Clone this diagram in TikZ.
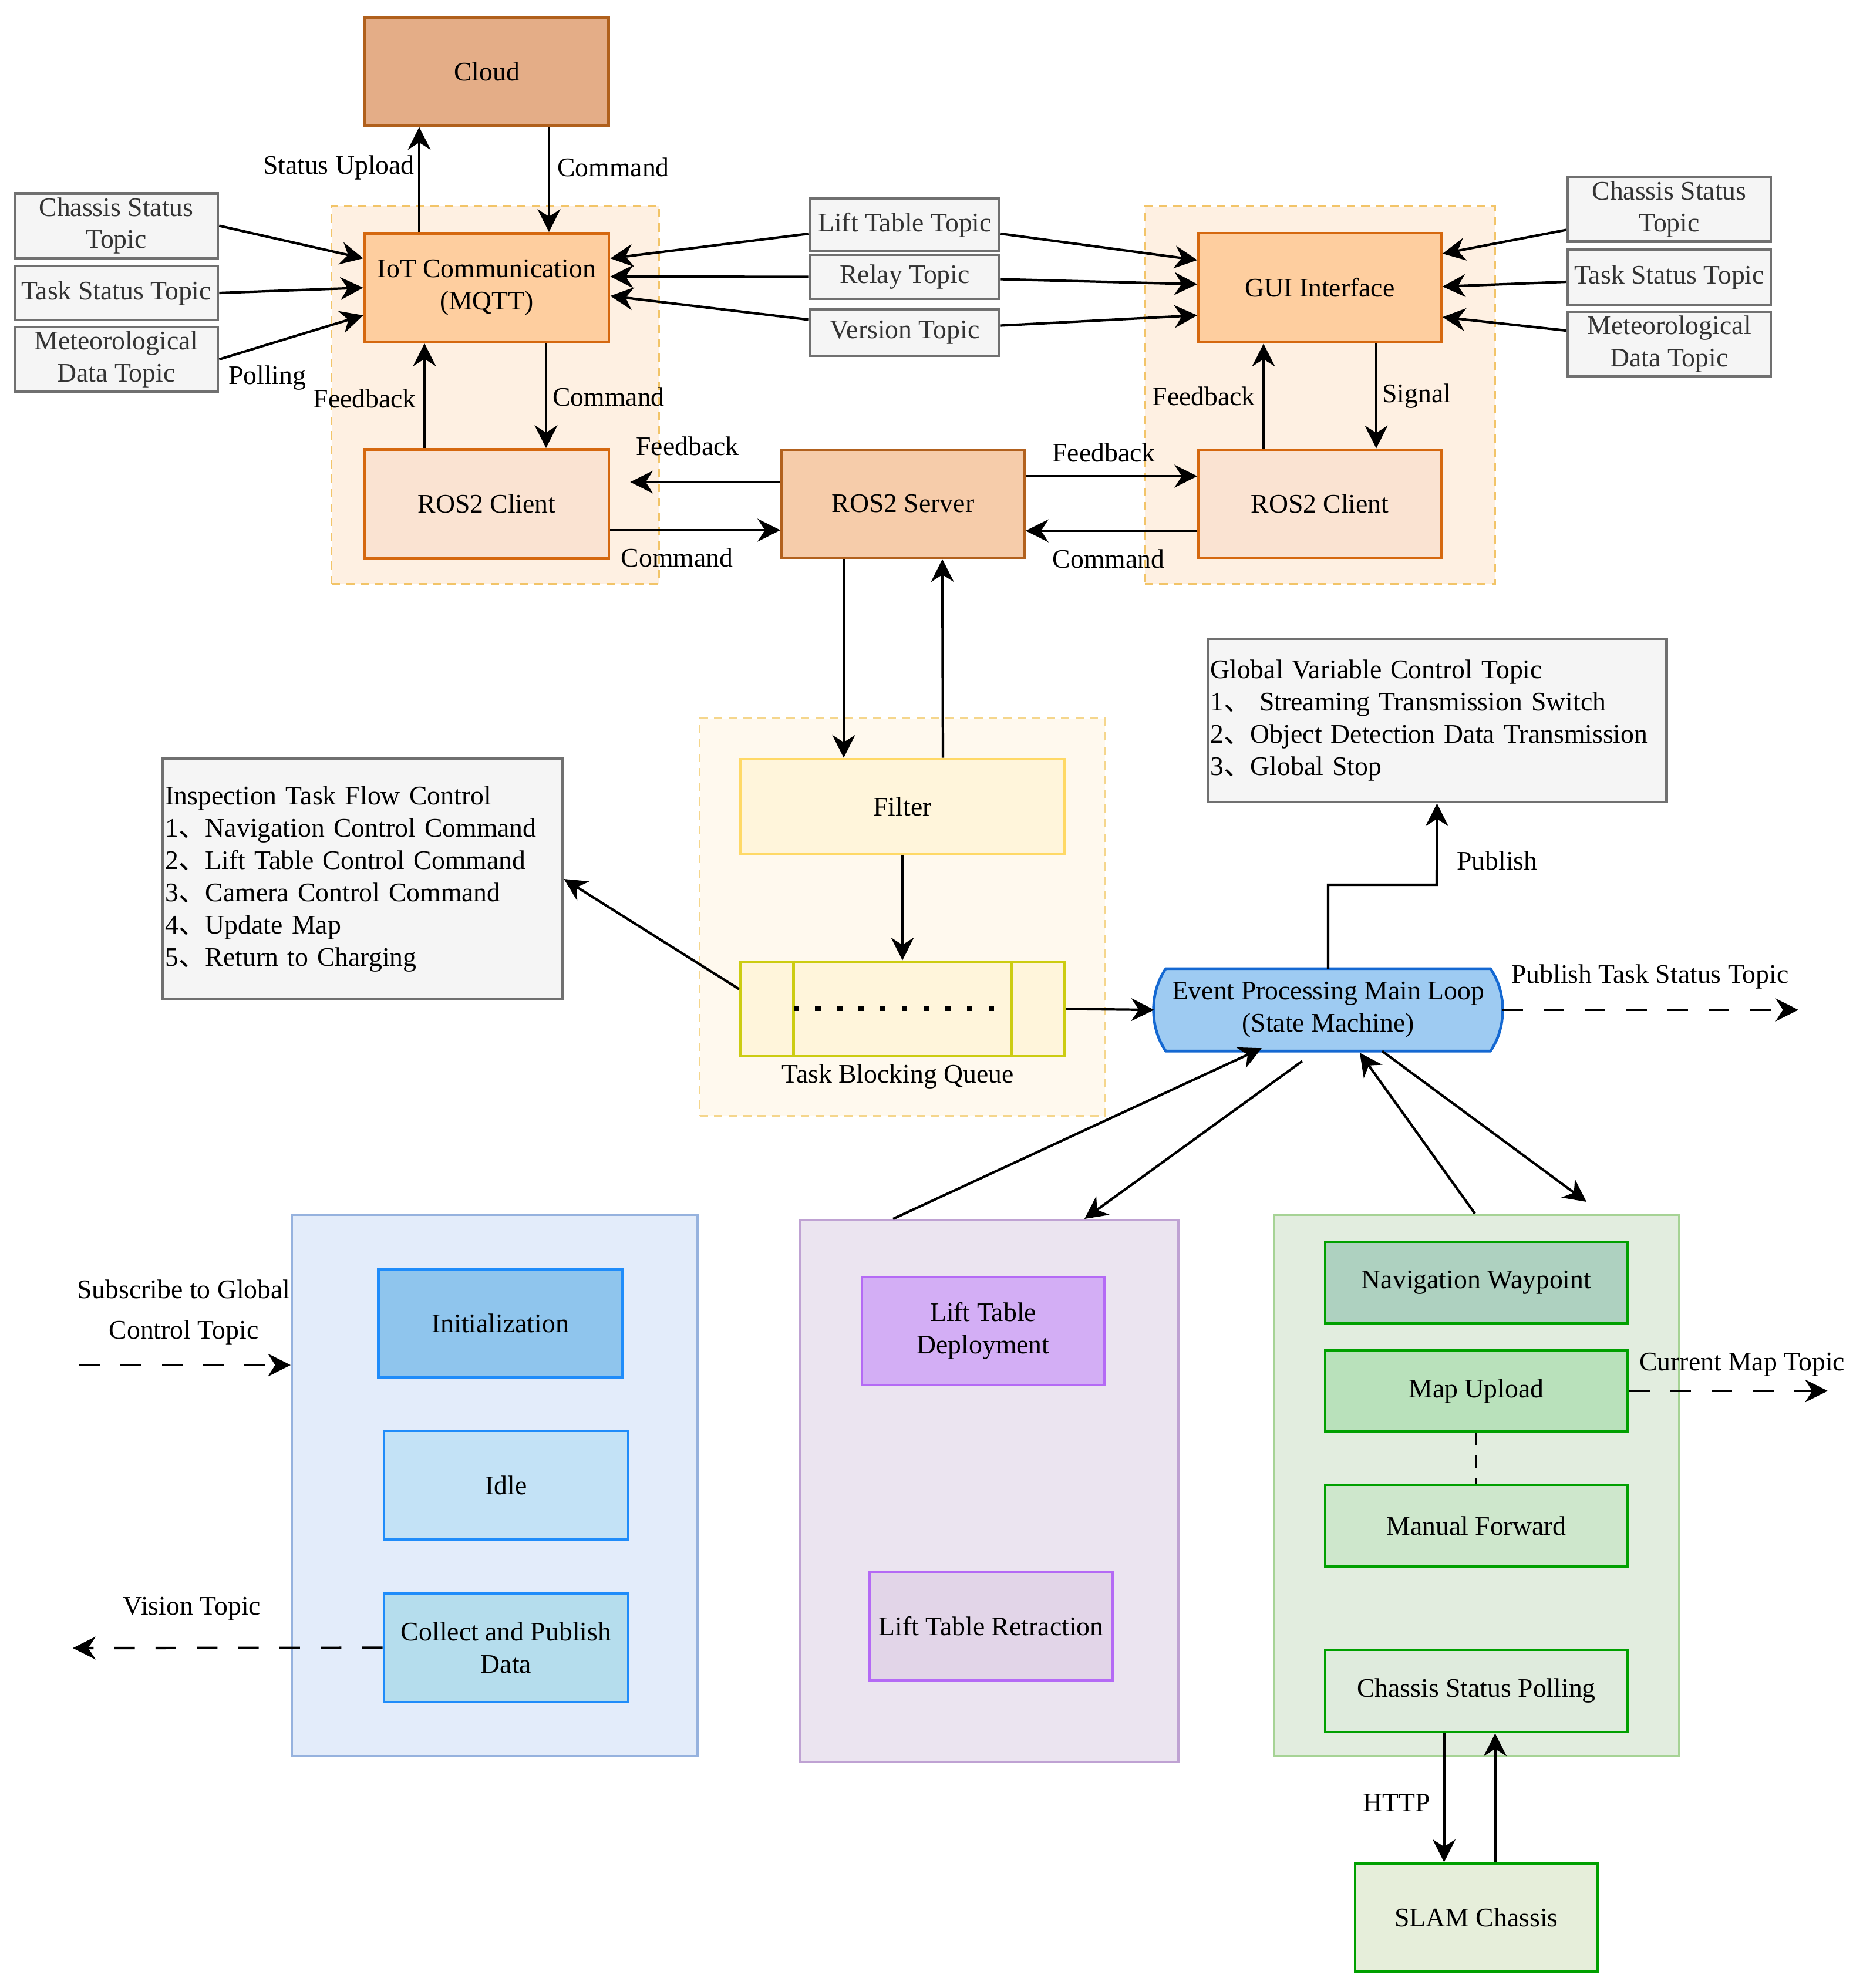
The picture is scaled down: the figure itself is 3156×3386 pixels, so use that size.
\documentclass[tikz,border=0pt]{standalone}
\usepackage{fontspec}
\setmainfont{Liberation Serif}
\newfontfamily\cjk{Noto Sans CJK SC}
\usetikzlibrary{arrows.meta,calc}
\definecolor{cloudF}{HTML}{E4AD87}
\definecolor{cloudD}{HTML}{B0601C}
\definecolor{iotF}{HTML}{FECE9F}
\definecolor{orD}{HTML}{D5680F}
\definecolor{clF}{HTML}{FAE3D2}
\definecolor{srvF}{HTML}{F6CCAA}
\definecolor{srvD}{HTML}{B2611E}
\definecolor{orRegF}{HTML}{FEF0E2}
\definecolor{orRegD}{HTML}{F2C468}
\definecolor{topF}{HTML}{F5F5F5}
\definecolor{topD}{HTML}{707070}
\definecolor{filF}{HTML}{FFF5DB}
\definecolor{filD}{HTML}{FFD966}
\definecolor{queD}{HTML}{CCCC12}
\definecolor{yRegF}{HTML}{FFF9EE}
\definecolor{yRegD}{HTML}{F5D68C}
\definecolor{evF}{HTML}{9ECBF2}
\definecolor{evD}{HTML}{1468D2}
\definecolor{bCF}{HTML}{E3ECFA}
\definecolor{bCD}{HTML}{96B2DE}
\definecolor{bD}{HTML}{1F8CFA}
\definecolor{initF}{HTML}{8FC5ED}
\definecolor{idleF}{HTML}{C3E2F6}
\definecolor{collF}{HTML}{B5DDED}
\definecolor{pCF}{HTML}{EBE4F0}
\definecolor{pCD}{HTML}{BFA2D3}
\definecolor{pD}{HTML}{B46AF5}
\definecolor{depF}{HTML}{D3AEF5}
\definecolor{retF}{HTML}{E2D5E8}
\definecolor{gCF}{HTML}{E2EDDF}
\definecolor{gCD}{HTML}{A6D395}
\definecolor{gD}{HTML}{00A000}
\definecolor{navF}{HTML}{AED1C0}
\definecolor{mapF}{HTML}{B9E1BB}
\definecolor{manF}{HTML}{CEE7CC}
\definecolor{polF}{HTML}{DFEBDD}
\definecolor{slamF}{HTML}{E6EEDA}
\begin{document}
\begin{tikzpicture}[x=0.01cm,y=-0.01cm,
  font=\fontsize{13}{15.6}\selectfont,
  box/.style={draw, line width=1.3pt, align=center, inner sep=2pt},
  topic/.style={box, fill=topF, draw=topD, text=black!80, minimum width=3.46cm},
  midtopic/.style={topic, minimum width=3.22cm},
  region/.style={draw=orRegD, fill=orRegF, dash pattern=on 4pt off 3pt, line width=0.9pt},
  cont/.style={draw, line width=1pt},
  arr/.style={line width=1.2pt, -{Stealth[length=11pt,width=11pt,inset=3.5pt]}},
  darr/.style={arr, dash pattern=on 10pt off 10pt},
  lbl/.style={inner sep=1pt}]
\fill[white] (0,0) rectangle (3156,3386);
\useasboundingbox (0,0) rectangle (3156,3386);

% ---------- regions / containers ----------
\node[region, minimum width=5.57cm, minimum height=6.43cm] (regL) at (843.5,672.5) {};
\node[region, minimum width=5.96cm, minimum height=6.42cm] (regR) at (2248,673) {};
\node[region, draw=yRegD, fill=yRegF, minimum width=6.90cm, minimum height=6.76cm] (regY) at (1537,1562) {};
\node[cont, draw=bCD, fill=bCF, minimum width=6.91cm, minimum height=9.22cm] (blue) at (842.5,2530) {};
\node[cont, draw=pCD, fill=pCF, minimum width=6.45cm, minimum height=9.22cm] (purp) at (1684.5,2539) {};
\node[cont, draw=gCD, fill=gCF, minimum width=6.90cm, minimum height=9.21cm] (green) at (2515,2529.5) {};

% ---------- top part ----------
\node[box, fill=cloudF, draw=cloudD, minimum width=4.15cm, minimum height=1.84cm] (cloud) at (829,122) {Cloud};
\node[box, fill=iotF, draw=orD, minimum width=4.16cm, minimum height=1.85cm] (iot) at (829,490) {IoT Communication\\(MQTT)};
\node[box, fill=clF, draw=orD, minimum width=4.16cm, minimum height=1.85cm] (rcl) at (829,858) {ROS2 Client};
\node[box, fill=iotF, draw=orD, minimum width=4.13cm, minimum height=1.86cm] (gui) at (2248,490) {GUI Interface};
\node[box, fill=clF, draw=orD, minimum width=4.13cm, minimum height=1.84cm] (rcr) at (2248,858) {ROS2 Client};
\node[box, fill=srvF, draw=srvD, minimum width=4.13cm, minimum height=1.84cm] (srv) at (1538,858) {ROS2 Server};

\node[topic, minimum height=1.03cm] (tcl1) at (198,384.5) {Chassis Status\\Topic};
\node[topic, minimum height=0.92cm] (tcl2) at (198,499) {Task Status Topic};
\node[topic, minimum height=1.06cm] (tcl3) at (198,612) {Meteorological\\Data Topic};

\node[midtopic, minimum height=0.90cm] (lt) at (1541,383) {Lift Table Topic};
\node[midtopic, minimum height=0.75cm] (rl) at (1541,471.5) {Relay Topic};
\node[midtopic, minimum height=0.79cm] (vt) at (1541,566.5) {Version Topic};

\node[topic, minimum height=1.03cm] (tcr1) at (2843,356.5) {Chassis Status\\Topic};
\node[topic, minimum height=0.94cm] (tcr2) at (2843,472) {Task Status Topic};
\node[topic, minimum height=1.04cm] (tcr3) at (2843,586) {Meteorological\\Data Topic};

% ---------- middle part ----------
\node[box, fill=filF, draw=filD, minimum width=5.52cm, minimum height=1.62cm] (filter) at (1537,1374) {Filter};
\node[box, fill=filF, draw=queD, minimum width=5.52cm, minimum height=1.61cm] (queue) at (1537,1718.5) {};
\draw[draw=queD, line width=1.3pt] ($(queue.north west)+(93,0)$) -- ($(queue.south west)+(93,0)$);
\draw[draw=queD, line width=1.3pt] ($(queue.north east)+(-92,0)$) -- ($(queue.south east)+(-92,0)$);
\draw[line width=2.6pt, dash pattern=on 2.6pt off 7.9pt] ($(queue.west)+(93,-1)$) -- ($(queue.east)+(-118,-1)$);
\node[lbl] (lqueue) at (1529,1834) {Task Blocking Queue};

\node[minimum width=5.91cm, minimum height=1.39cm, inner sep=0pt, align=center] (evt) at (2262,1720) {};
\filldraw[fill=evF, draw=evD, line width=1.3pt]
  ($(evt.north west)+(20,0)$) -- ($(evt.north east)+(-20,0)$)
  .. controls ($(evt.north east)+(8,40)$) and ($(evt.south east)+(8,-40)$) .. ($(evt.south east)+(-20,0)$)
  -- ($(evt.south west)+(20,0)$)
  .. controls ($(evt.south west)+(-8,-40)$) and ($(evt.north west)+(-8,40)$) .. ($(evt.north west)+(20,0)$) -- cycle;
\node[align=center] (evtxt) at (evt.center) {Event Processing Main Loop\\(State Machine)};

\node[box, fill=topF, draw=topD, minimum width=7.81cm, minimum height=2.78cm, text width=7.72cm, inner xsep=0.04cm, align=left] (glob) at (2447.5,1227)
  {Global Variable Control Topic\\1{\cjk 、} Streaming Transmission Switch\\2{\cjk 、}Object Detection Data Transmission\\3{\cjk 、}Global Stop};
\node[box, fill=topF, draw=topD, minimum width=6.81cm, minimum height=4.10cm, text width=6.72cm, inner xsep=0.04cm, align=left] (insp) at (617.5,1497)
  {Inspection Task Flow Control\\1{\cjk 、}Navigation Control Command\\2{\cjk 、}Lift Table Control Command\\3{\cjk 、}Camera Control Command\\4{\cjk 、}Update Map\\5{\cjk 、}Return to Charging};

% ---------- bottom part ----------
\node[box, fill=initF, draw=bD, minimum width=4.15cm, minimum height=1.85cm] (init) at (852,2254) {Initialization};
\node[box, fill=idleF, draw=bD, minimum width=4.16cm, minimum height=1.85cm] (idle) at (862,2529.5) {Idle};
\node[box, fill=collF, draw=bD, minimum width=4.16cm, minimum height=1.85cm] (coll) at (862,2806.5) {Collect and Publish\\Data};

\node[box, fill=depF, draw=pD, minimum width=4.13cm, minimum height=1.84cm] (dep) at (1674.5,2267) {Lift Table\\Deployment};
\node[box, fill=retF, draw=pD, minimum width=4.14cm, minimum height=1.85cm] (ret) at (1688,2769.5) {Lift Table Retraction};

\node[box, fill=navF, draw=gD, minimum width=5.15cm, minimum height=1.39cm] (nav) at (2514.5,2184.5) {Navigation Waypoint};
\node[box, fill=mapF, draw=gD, minimum width=5.15cm, minimum height=1.38cm] (map) at (2514.5,2369) {Map Upload};
\node[box, fill=manF, draw=gD, minimum width=5.15cm, minimum height=1.39cm] (man) at (2514.5,2598.5) {Manual Forward};
\node[box, fill=polF, draw=gD, minimum width=5.15cm, minimum height=1.40cm] (poll) at (2514.5,2880) {Chassis Status Polling};
\node[box, fill=slamF, draw=gD, minimum width=4.13cm, minimum height=1.84cm] (slam) at (2514.5,3266) {SLAM Chassis};

% ---------- free coordinates ----------
\coordinate (pubturn) at (2447,1507);
\coordinate (pubend) at (3063,1720);
\coordinate (mapend) at (3113,2369);
\coordinate (substart) at (135,2325);
\coordinate (visend) at (124,2807);

% ---------- connectors: top ----------
\draw[arr] ($(iot.north)+(-115,0)$) -- ($(cloud.south)+(-115,0)$);
\draw[arr] ($(cloud.south)+(106,0)$) -- ($(iot.north)+(106,0)$);
\draw[arr] ($(rcl.north)+(-106,0)$) -- ($(iot.south)+(-106,0)$);
\draw[arr] ($(iot.south)+(101,0)$) -- ($(rcl.north)+(101,0)$);

\draw[arr] (tcl1.east) -- ($(iot.west)+(0,-50)$);
\draw[arr] (tcl2.east) -- (iot.west);
\draw[arr] (tcl3.east) -- ($(iot.west)+(0,47)$);

\draw[arr] ($(lt.west)+(0,15)$) -- ($(iot.east)+(0,-50)$);
\draw[arr] (rl.west) -- ($(iot.east)+(0,-19)$);
\draw[arr] ($(vt.west)+(0,-22)$) -- ($(iot.east)+(0,14)$);
\draw[arr] ($(lt.east)+(0,15)$) -- ($(gui.west)+(0,-47)$);
\draw[arr] ($(rl.east)+(0,4)$) -- ($(gui.west)+(0,-6)$);
\draw[arr] ($(vt.east)+(0,-12)$) -- ($(gui.west)+(0,47)$);

\draw[arr] ($(tcr1.west)+(0,35)$) -- ($(gui.east)+(0,-58)$);
\draw[arr] ($(tcr2.west)+(0,8)$) -- ($(gui.east)+(0,-2)$);
\draw[arr] ($(tcr3.west)+(0,-23)$) -- ($(gui.east)+(0,50)$);

\draw[arr] ($(rcr.north)+(-96,0)$) -- ($(gui.south)+(-96,0)$);
\draw[arr] ($(gui.south)+(96,0)$) -- ($(rcr.north)+(96,0)$);

\draw[arr] ($(srv.east)+(0,-47)$) -- ($(rcr.west)+(0,-47)$);
\draw[arr] ($(rcr.west)+(0,46)$) -- ($(srv.east)+(0,46)$);
\draw[arr] ($(srv.west)+(0,-37)$) -- ($(rcl.east)+(34,-37)$);
\draw[arr] ($(rcl.east)+(0,45)$) -- ($(srv.west)+(0,45)$);

% ---------- connectors: middle ----------
\draw[arr] ($(srv.south)+(-101,0)$) -- ($(filter.north)+(-100,0)$);
\draw[arr] ($(filter.north)+(69,0)$) -- ($(srv.south)+(67,0)$);
\draw[arr] (filter.south) -- (queue.north);
\draw[arr] (queue.east) -- (evt.west);
\draw[arr] ($(queue.west)+(0,-34)$) -- (insp.east);
\draw[arr] (evt.north) |- (pubturn) -- (glob.south);
\draw[darr] (evt.east) -- (pubend);

% ---------- connectors: bottom ----------
\draw[arr] ($(purp.north west)+(161,0)$) -- ($(evt.south)+(-113,-5)$);
\draw[arr] ($(evt.south)+(-44,17)$) -- ($(purp.north west)+(487,0)$);
\draw[arr] ($(green.north)+(-3,0)$) -- ($(evt.south)+(54,3)$);
\draw[arr] ($(evt.south)+(92,0)$) -- ($(green.north)+(187,-20)$);

\draw[darr] (map.east) -- (mapend);
\draw[line width=1pt, dash pattern=on 6pt off 5pt] (map.south) -- (man.north);
\draw[arr] ($(poll.south)+(-55,0)$) -- ($(slam.north)+(-55,0)$);
\draw[arr] ($(slam.north)+(32,0)$) -- ($(poll.south)+(32,0)$);

\draw[darr] (substart) -- ($(blue.west)+(0,-205)$);
\draw[darr] (coll.west) -- (visend);

% ---------- labels ----------
\node[lbl, anchor=east] (l1) at (710,285) {Status Upload};
\node[lbl, anchor=west] (l2) at (945,285) {Command};
\node[lbl, anchor=east] (l3) at (713,679) {Feedback};
\node[lbl, anchor=west] (l4) at (937,676) {Command};
\node[lbl, anchor=west] (l5) at (385,644) {Polling};
\node[lbl] (l6) at (1171,760) {Feedback};
\node[lbl] (l7) at (1153,950) {Command};
\node[lbl] (l8) at (1880,771) {Feedback};
\node[lbl] (l9) at (1888,952) {Command};
\node[lbl, anchor=east] (l10) at (2142,675) {Feedback};
\node[lbl, anchor=west] (l11) at (2350,675) {Signal};
\node[lbl, anchor=west] (l12) at (2477,1466) {Publish};
\node[lbl, anchor=west] (l13) at (2570,1663) {Publish Task Status Topic};
\node[lbl, align=center] (l14) at (313,2235) {Subscribe to Global\\[4pt]Control Topic};
\node[lbl] (l15) at (327,2740) {Vision Topic};
\node[lbl, anchor=west] (l16) at (2788,2324) {Current Map Topic};
\node[lbl, anchor=east] (l17) at (2440,3070) {HTTP};
\end{tikzpicture}
\end{document}
